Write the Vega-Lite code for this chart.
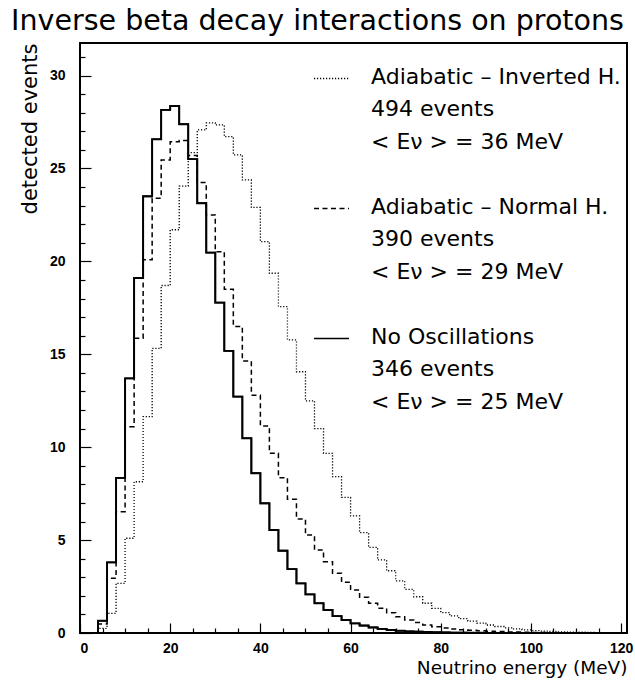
{
  "$schema": "https://vega.github.io/schema/vega-lite/v6.json",
  "width": 547,
  "height": 590,
  "autosize": "none",
  "padding": {"left": 80, "top": 43, "right": 8, "bottom": 50},
  "background": "white",
  "title": {"text": "Inverse beta decay interactions on protons", "font": "DejaVu Sans", "fontSize": 28.5, "fontWeight": "normal", "color": "black", "anchor": "middle", "frame": "group", "dx": -36, "offset": 8},
  "data": {"values": [
    {"E": 2, "n": 0, "model": "Adiabatic – Inverted H."},
    {"E": 4, "n": 0.25, "model": "Adiabatic – Inverted H."},
    {"E": 6, "n": 1.06, "model": "Adiabatic – Inverted H."},
    {"E": 8, "n": 2.67, "model": "Adiabatic – Inverted H."},
    {"E": 10, "n": 5.1, "model": "Adiabatic – Inverted H."},
    {"E": 12, "n": 8.14, "model": "Adiabatic – Inverted H."},
    {"E": 14, "n": 11.64, "model": "Adiabatic – Inverted H."},
    {"E": 16, "n": 15.32, "model": "Adiabatic – Inverted H."},
    {"E": 18, "n": 18.7, "model": "Adiabatic – Inverted H."},
    {"E": 20, "n": 21.7, "model": "Adiabatic – Inverted H."},
    {"E": 22, "n": 24.05, "model": "Adiabatic – Inverted H."},
    {"E": 24, "n": 25.85, "model": "Adiabatic – Inverted H."},
    {"E": 26, "n": 27.07, "model": "Adiabatic – Inverted H."},
    {"E": 28, "n": 27.45, "model": "Adiabatic – Inverted H."},
    {"E": 30, "n": 27.34, "model": "Adiabatic – Inverted H."},
    {"E": 32, "n": 26.71, "model": "Adiabatic – Inverted H."},
    {"E": 34, "n": 25.73, "model": "Adiabatic – Inverted H."},
    {"E": 36, "n": 24.38, "model": "Adiabatic – Inverted H."},
    {"E": 38, "n": 22.9, "model": "Adiabatic – Inverted H."},
    {"E": 40, "n": 21.06, "model": "Adiabatic – Inverted H."},
    {"E": 42, "n": 19.36, "model": "Adiabatic – Inverted H."},
    {"E": 44, "n": 17.56, "model": "Adiabatic – Inverted H."},
    {"E": 46, "n": 15.77, "model": "Adiabatic – Inverted H."},
    {"E": 48, "n": 14.06, "model": "Adiabatic – Inverted H."},
    {"E": 50, "n": 12.49, "model": "Adiabatic – Inverted H."},
    {"E": 52, "n": 11.0, "model": "Adiabatic – Inverted H."},
    {"E": 54, "n": 9.67, "model": "Adiabatic – Inverted H."},
    {"E": 56, "n": 8.41, "model": "Adiabatic – Inverted H."},
    {"E": 58, "n": 7.3, "model": "Adiabatic – Inverted H."},
    {"E": 60, "n": 6.3, "model": "Adiabatic – Inverted H."},
    {"E": 62, "n": 5.4, "model": "Adiabatic – Inverted H."},
    {"E": 64, "n": 4.61, "model": "Adiabatic – Inverted H."},
    {"E": 66, "n": 3.93, "model": "Adiabatic – Inverted H."},
    {"E": 68, "n": 3.35, "model": "Adiabatic – Inverted H."},
    {"E": 70, "n": 2.81, "model": "Adiabatic – Inverted H."},
    {"E": 72, "n": 2.35, "model": "Adiabatic – Inverted H."},
    {"E": 74, "n": 1.95, "model": "Adiabatic – Inverted H."},
    {"E": 76, "n": 1.6, "model": "Adiabatic – Inverted H."},
    {"E": 78, "n": 1.33, "model": "Adiabatic – Inverted H."},
    {"E": 80, "n": 1.1, "model": "Adiabatic – Inverted H."},
    {"E": 82, "n": 0.92, "model": "Adiabatic – Inverted H."},
    {"E": 84, "n": 0.77, "model": "Adiabatic – Inverted H."},
    {"E": 86, "n": 0.64, "model": "Adiabatic – Inverted H."},
    {"E": 88, "n": 0.53, "model": "Adiabatic – Inverted H."},
    {"E": 90, "n": 0.43, "model": "Adiabatic – Inverted H."},
    {"E": 92, "n": 0.35, "model": "Adiabatic – Inverted H."},
    {"E": 94, "n": 0.28, "model": "Adiabatic – Inverted H."},
    {"E": 96, "n": 0.22, "model": "Adiabatic – Inverted H."},
    {"E": 98, "n": 0.17, "model": "Adiabatic – Inverted H."},
    {"E": 100, "n": 0.13, "model": "Adiabatic – Inverted H."},
    {"E": 102, "n": 0.1, "model": "Adiabatic – Inverted H."},
    {"E": 104, "n": 0.08, "model": "Adiabatic – Inverted H."},
    {"E": 106, "n": 0.06, "model": "Adiabatic – Inverted H."},
    {"E": 108, "n": 0.05, "model": "Adiabatic – Inverted H."},
    {"E": 110, "n": 0.04, "model": "Adiabatic – Inverted H."},
    {"E": 112, "n": 0.03, "model": "Adiabatic – Inverted H."},
    {"E": 114, "n": 0.02, "model": "Adiabatic – Inverted H."},
    {"E": 116, "n": 0.02, "model": "Adiabatic – Inverted H."},
    {"E": 118, "n": 0.01, "model": "Adiabatic – Inverted H."},
    {"E": 120, "n": 0, "model": "Adiabatic – Inverted H."},
    {"E": 2, "n": 0, "model": "Adiabatic – Normal H."},
    {"E": 4, "n": 0.48, "model": "Adiabatic – Normal H."},
    {"E": 6, "n": 2.94, "model": "Adiabatic – Normal H."},
    {"E": 8, "n": 6.53, "model": "Adiabatic – Normal H."},
    {"E": 10, "n": 11.1, "model": "Adiabatic – Normal H."},
    {"E": 12, "n": 15.86, "model": "Adiabatic – Normal H."},
    {"E": 14, "n": 20.08, "model": "Adiabatic – Normal H."},
    {"E": 16, "n": 23.4, "model": "Adiabatic – Normal H."},
    {"E": 18, "n": 25.46, "model": "Adiabatic – Normal H."},
    {"E": 20, "n": 26.44, "model": "Adiabatic – Normal H."},
    {"E": 22, "n": 26.5, "model": "Adiabatic – Normal H."},
    {"E": 24, "n": 25.7, "model": "Adiabatic – Normal H."},
    {"E": 26, "n": 24.24, "model": "Adiabatic – Normal H."},
    {"E": 28, "n": 22.5, "model": "Adiabatic – Normal H."},
    {"E": 30, "n": 20.52, "model": "Adiabatic – Normal H."},
    {"E": 32, "n": 18.5, "model": "Adiabatic – Normal H."},
    {"E": 34, "n": 16.5, "model": "Adiabatic – Normal H."},
    {"E": 36, "n": 14.64, "model": "Adiabatic – Normal H."},
    {"E": 38, "n": 12.8, "model": "Adiabatic – Normal H."},
    {"E": 40, "n": 11.14, "model": "Adiabatic – Normal H."},
    {"E": 42, "n": 9.67, "model": "Adiabatic – Normal H."},
    {"E": 44, "n": 8.36, "model": "Adiabatic – Normal H."},
    {"E": 46, "n": 7.2, "model": "Adiabatic – Normal H."},
    {"E": 48, "n": 6.14, "model": "Adiabatic – Normal H."},
    {"E": 50, "n": 5.27, "model": "Adiabatic – Normal H."},
    {"E": 52, "n": 4.47, "model": "Adiabatic – Normal H."},
    {"E": 54, "n": 3.84, "model": "Adiabatic – Normal H."},
    {"E": 56, "n": 3.21, "model": "Adiabatic – Normal H."},
    {"E": 58, "n": 2.73, "model": "Adiabatic – Normal H."},
    {"E": 60, "n": 2.31, "model": "Adiabatic – Normal H."},
    {"E": 62, "n": 1.92, "model": "Adiabatic – Normal H."},
    {"E": 64, "n": 1.6, "model": "Adiabatic – Normal H."},
    {"E": 66, "n": 1.33, "model": "Adiabatic – Normal H."},
    {"E": 68, "n": 1.09, "model": "Adiabatic – Normal H."},
    {"E": 70, "n": 0.88, "model": "Adiabatic – Normal H."},
    {"E": 72, "n": 0.7, "model": "Adiabatic – Normal H."},
    {"E": 74, "n": 0.56, "model": "Adiabatic – Normal H."},
    {"E": 76, "n": 0.43, "model": "Adiabatic – Normal H."},
    {"E": 78, "n": 0.34, "model": "Adiabatic – Normal H."},
    {"E": 80, "n": 0.27, "model": "Adiabatic – Normal H."},
    {"E": 82, "n": 0.22, "model": "Adiabatic – Normal H."},
    {"E": 84, "n": 0.18, "model": "Adiabatic – Normal H."},
    {"E": 86, "n": 0.15, "model": "Adiabatic – Normal H."},
    {"E": 88, "n": 0.12, "model": "Adiabatic – Normal H."},
    {"E": 90, "n": 0.1, "model": "Adiabatic – Normal H."},
    {"E": 92, "n": 0.08, "model": "Adiabatic – Normal H."},
    {"E": 94, "n": 0.06, "model": "Adiabatic – Normal H."},
    {"E": 96, "n": 0.05, "model": "Adiabatic – Normal H."},
    {"E": 98, "n": 0.04, "model": "Adiabatic – Normal H."},
    {"E": 100, "n": 0.03, "model": "Adiabatic – Normal H."},
    {"E": 102, "n": 0.025, "model": "Adiabatic – Normal H."},
    {"E": 104, "n": 0.02, "model": "Adiabatic – Normal H."},
    {"E": 106, "n": 0.015, "model": "Adiabatic – Normal H."},
    {"E": 108, "n": 0.01, "model": "Adiabatic – Normal H."},
    {"E": 110, "n": 0, "model": "Adiabatic – Normal H."},
    {"E": 2, "n": 0, "model": "No Oscillations"},
    {"E": 4, "n": 0.66, "model": "No Oscillations"},
    {"E": 6, "n": 3.8, "model": "No Oscillations"},
    {"E": 8, "n": 8.35, "model": "No Oscillations"},
    {"E": 10, "n": 13.7, "model": "No Oscillations"},
    {"E": 12, "n": 19.1, "model": "No Oscillations"},
    {"E": 14, "n": 23.5, "model": "No Oscillations"},
    {"E": 16, "n": 26.57, "model": "No Oscillations"},
    {"E": 18, "n": 28.15, "model": "No Oscillations"},
    {"E": 20, "n": 28.36, "model": "No Oscillations"},
    {"E": 22, "n": 27.38, "model": "No Oscillations"},
    {"E": 24, "n": 25.5, "model": "No Oscillations"},
    {"E": 26, "n": 23.13, "model": "No Oscillations"},
    {"E": 28, "n": 20.47, "model": "No Oscillations"},
    {"E": 30, "n": 17.78, "model": "No Oscillations"},
    {"E": 32, "n": 15.18, "model": "No Oscillations"},
    {"E": 34, "n": 12.72, "model": "No Oscillations"},
    {"E": 36, "n": 10.48, "model": "No Oscillations"},
    {"E": 38, "n": 8.6, "model": "No Oscillations"},
    {"E": 40, "n": 6.98, "model": "No Oscillations"},
    {"E": 42, "n": 5.54, "model": "No Oscillations"},
    {"E": 44, "n": 4.43, "model": "No Oscillations"},
    {"E": 46, "n": 3.44, "model": "No Oscillations"},
    {"E": 48, "n": 2.67, "model": "No Oscillations"},
    {"E": 50, "n": 2.08, "model": "No Oscillations"},
    {"E": 52, "n": 1.6, "model": "No Oscillations"},
    {"E": 54, "n": 1.24, "model": "No Oscillations"},
    {"E": 56, "n": 0.91, "model": "No Oscillations"},
    {"E": 58, "n": 0.7, "model": "No Oscillations"},
    {"E": 60, "n": 0.52, "model": "No Oscillations"},
    {"E": 62, "n": 0.4, "model": "No Oscillations"},
    {"E": 64, "n": 0.3, "model": "No Oscillations"},
    {"E": 66, "n": 0.22, "model": "No Oscillations"},
    {"E": 68, "n": 0.16, "model": "No Oscillations"},
    {"E": 70, "n": 0.12, "model": "No Oscillations"},
    {"E": 72, "n": 0.09, "model": "No Oscillations"},
    {"E": 74, "n": 0.07, "model": "No Oscillations"},
    {"E": 76, "n": 0.05, "model": "No Oscillations"},
    {"E": 78, "n": 0.04, "model": "No Oscillations"},
    {"E": 80, "n": 0.03, "model": "No Oscillations"},
    {"E": 82, "n": 0.02, "model": "No Oscillations"},
    {"E": 84, "n": 0.015, "model": "No Oscillations"},
    {"E": 86, "n": 0.01, "model": "No Oscillations"},
    {"E": 88, "n": 0.01, "model": "No Oscillations"},
    {"E": 90, "n": 0, "model": "No Oscillations"}
  ]},
  "layer": [
    {
      "mark": {"type": "line", "interpolate": "step-after", "color": "black"},
      "encoding": {
        "x": {"field": "E", "type": "quantitative", "scale": {"domain": [0, 121.3], "nice": false, "zero": false},
          "axis": {"orient": "bottom", "values": [0, 20, 40, 60, 80, 100, 120], "tickSize": -10, "labelPadding": 18,
            "labelFont": "Liberation Sans", "labelFontSize": 14, "labelFontWeight": "bold",
            "title": "Neutrino energy (MeV)", "titleAnchor": "end", "titleFont": "DejaVu Sans", "titleFontSize": 18.5, "titleFontWeight": "normal", "titlePadding": 3}},
        "y": {"field": "n", "type": "quantitative", "scale": {"domain": [0, 31.75], "nice": false, "zero": false},
          "axis": {"orient": "left", "values": [0, 5, 10, 15, 20, 25, 30], "tickSize": -11, "labelPadding": 26,
            "labelFont": "Liberation Sans", "labelFontSize": 14, "labelFontWeight": "bold",
            "title": "detected events", "titleAnchor": "end", "titleFont": "DejaVu Sans", "titleFontSize": 21, "titleFontWeight": "normal", "titlePadding": 9}},
        "strokeDash": {"field": "model", "type": "nominal",
          "scale": {"domain": ["Adiabatic – Inverted H.", "Adiabatic – Normal H.", "No Oscillations"], "range": [[1.2, 1.8], [5, 3.5], [1, 0]]},
          "legend": {"orient": "none", "legendX": 233, "legendY": 17, "title": null,
            "symbolType": "stroke", "symbolSize": 1225, "symbolStrokeWidth": 1.5, "symbolStrokeColor": "black",
            "labelOffset": 21, "labelFont": "DejaVu Sans", "labelFontSize": 22, "labelColor": "black", "labelBaseline": "top", "labelLimit": 400,
            "rowPadding": 37,
            "labelExpr": "datum.label == 'No Oscillations' ? ['No Oscillations', '346 events', '< Eν >  = 25 MeV'] : datum.label == 'Adiabatic – Normal H.' ? ['Adiabatic – Normal H.', '390 events', '< Eν >  = 29 MeV'] : ['Adiabatic – Inverted H.', '494 events', '< Eν >  = 36 MeV']",
            "encode": {"labels": {"update": {"lineHeight": {"value": 32.5}, "dy": {"value": -12}}}}}},
        "strokeWidth": {"field": "model", "type": "nominal",
          "scale": {"domain": ["Adiabatic – Inverted H.", "Adiabatic – Normal H.", "No Oscillations"], "range": [1.3, 1.7, 1.9]}, "legend": null}
      }
    },
    {
      "transform": [{"filter": "datum.model == 'No Oscillations'"}],
      "mark": {"type": "line", "interpolate": "step-after", "color": "black", "strokeWidth": 1.9},
      "encoding": {
        "x": {"field": "E", "type": "quantitative",
          "axis": {"orient": "bottom", "values": [5, 10, 15, 25, 30, 35, 45, 50, 55, 65, 70, 75, 85, 90, 95, 105, 110, 115], "tickSize": -5, "labels": false, "title": null}},
        "y": {"field": "n", "type": "quantitative",
          "axis": {"orient": "left", "values": [1, 2, 3, 4, 6, 7, 8, 9, 11, 12, 13, 14, 16, 17, 18, 19, 21, 22, 23, 24, 26, 27, 28, 29, 31], "tickSize": -5, "labels": false, "title": null}}
      }
    }
  ],
  "resolve": {"axis": {"x": "independent", "y": "independent"}},
  "config": {
    "view": {"stroke": "black", "strokeWidth": 2},
    "axis": {"domain": false, "grid": false, "tickColor": "black", "tickWidth": 1.2, "labelColor": "black", "titleColor": "black"}
  }
}
